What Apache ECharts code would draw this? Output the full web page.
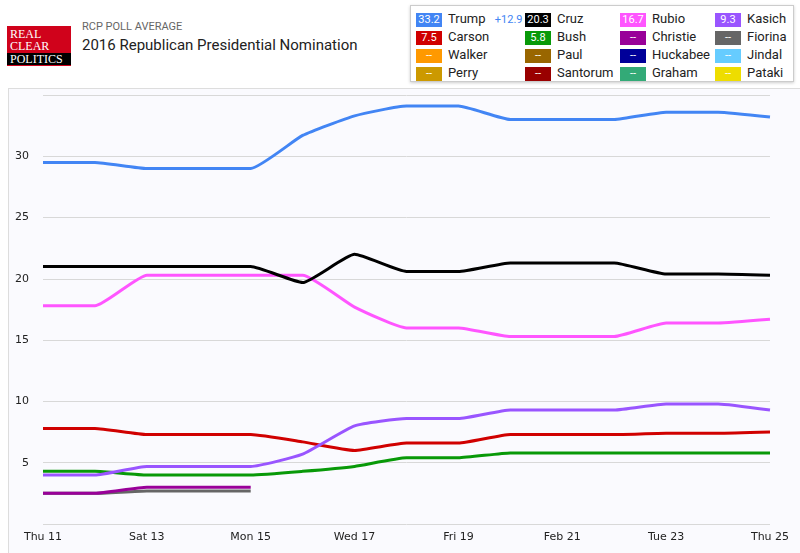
<!DOCTYPE html>
<html>
<head>
<meta charset="utf-8">
<script src="https://cdn.jsdelivr.net/npm/echarts@6/dist/echarts.min.js"></script>
<style>
  body { margin: 0; width: 800px; height: 553px; background: #fff; font-family: Roboto, "Open Sans", sans-serif; position: relative; overflow: hidden; }
  #logo { position: absolute; left: 7px; top: 26px; width: 64px; height: 40px; background: #d0021b; color: #fff; font-family: "Liberation Serif", serif; font-size: 12px; line-height: 12px; padding: 2px 0 0 3px; box-sizing: border-box; }
  #logo span { display: block; }
  #logo .b { background: #000; margin: 1px 0 0 -3px; padding-left: 3px; }
  #sub { position: absolute; left: 82px; top: 20px; font-size: 11px; color: #666; }
  #title { position: absolute; left: 82px; top: 36px; font-size: 15px; color: #222; }
  #legend { position: absolute; left: 410px; top: 5px; width: 384px; height: 77px; border: 1px solid #ccc; box-shadow: 0 1px 3px #ccc; box-sizing: border-box; }
  .item { position: absolute; font-size: 13px; color: #222; height: 18px; line-height: 16px; white-space: nowrap; }
  .badge { display: inline-block; width: 26px; height: 14px; color: #fff; font-size: 11px; text-align: center; line-height: 14px; margin-right: 6px; vertical-align: middle; }
  #frame { position: absolute; left: 8px; top: 88px; width: 800px; height: 470px; border: 1px solid #ddd; box-sizing: border-box; background: #fafafe; }
  #chart { position: absolute; left: 0; top: 88px; width: 800px; height: 465px; }
</style>
</head>
<body>
<div id="logo"><span>REAL</span><span>CLEAR</span><span class="b">POLITICS</span></div>
<div id="sub">RCP POLL AVERAGE</div>
<div id="title">2016 Republican Presidential Nomination</div>
<div id="legend"></div>
<div id="frame"></div>
<div id="chart"></div>
<script>
const days = ['Thu 11', 'Fri 12', 'Sat 13', 'Sun 14', 'Mon 15', 'Tue 16', 'Wed 17', 'Thu 18', 'Fri 19', 'Sat 20', 'Feb 21', 'Mon 22', 'Tue 23', 'Wed 24', 'Thu 25']
const trump = [29.5, 29.5, 29, 29, 29, 31.7, 33.3, 34.1, 34.1, 33, 33, 33, 33.6, 33.6, 33.2]
const cruz = [21, 21, 21, 21, 21, 19.7, 22, 20.6, 20.6, 21.3, 21.3, 21.3, 20.4, 20.4, 20.3]
const rubio = [17.8, 17.8, 20.3, 20.3, 20.3, 20.3, 17.7, 16, 16, 15.3, 15.3, 15.3, 16.4, 16.4, 16.7]
const kasich = [4, 4, 4.7, 4.7, 4.7, 5.7, 8, 8.6, 8.6, 9.3, 9.3, 9.3, 9.8, 9.8, 9.3]
const carson = [7.8, 7.8, 7.3, 7.3, 7.3, 6.7, 6, 6.6, 6.6, 7.3, 7.3, 7.3, 7.4, 7.4, 7.5]
const bush = [4.3, 4.3, 4, 4, 4, 4.3, 4.7, 5.4, 5.4, 5.8, 5.8, 5.8, 5.8, 5.8, 5.8]
const christie = [2.5, 2.5, 3, 3, 3]
const fiorina = [2.5, 2.5, 2.7, 2.7, 2.7]

const candidates = [
  ['Trump', '#4285f4', trump], ['Cruz', '#000000', cruz], ['Rubio', '#ff55ff', rubio], ['Kasich', '#9955ff', kasich],
  ['Carson', '#d00000', carson], ['Bush', '#089908', bush], ['Christie', '#990099', christie], ['Fiorina', '#666666', fiorina],
  ['Walker', '#ff9900', null], ['Paul', '#996600', null], ['Huckabee', '#000099', null], ['Jindal', '#66ccff', null],
  ['Perry', '#cc9900', null], ['Santorum', '#990000', null], ['Graham', '#33aa77', null], ['Pataki', '#eedd00', null]
]

// legend in html, values taken from the last point of each active series
const legend = document.getElementById('legend')
candidates.forEach(([name, color, data], i) => {
  const col = i % 4, row = Math.floor(i / 4)
  const last = data && data.length === days.length ? data[data.length - 1].toFixed(1) : '--'
  const el = document.createElement('div')
  el.className = 'item'
  el.style.left = [5, 114, 209, 304][col] + 'px'
  el.style.top = (5 + row * 18) + 'px'
  el.innerHTML = '<span class="badge" style="background:' + color + '">' + last + '</span>' + name +
    (name === 'Trump' ? ' <span style="color:#4285f4;font-size:11px;margin-left:6px">+12.9</span>' : '')
  legend.appendChild(el)
})

const chart = echarts.init(document.getElementById('chart'))
chart.setOption({
  animation: false,
  grid: { left: 43, right: 30, top: 7, bottom: 29 },
  xAxis: {
    type: 'category', data: days, boundaryGap: false,
    axisLine: { show: false }, axisTick: { show: false },
    axisLabel: { interval: 1, color: '#222', fontSize: 11, fontFamily: 'DejaVu Sans', margin: 8 }
  },
  yAxis: {
    type: 'value', min: 0, max: 35, interval: 5,
    axisLabel: { showMinLabel: false, showMaxLabel: false, color: '#222', fontSize: 11, fontFamily: 'DejaVu Sans', margin: 14 },
    splitLine: { lineStyle: { color: '#d8d8d8' } }
  },
  series: candidates.filter(c => c[2]).reverse().map(([name, color, data]) => ({
    name, type: 'line', data, smooth: 0.15, showSymbol: false,
    lineStyle: { color, width: 3 }, itemStyle: { color }
  }))
})
</script>
</body>
</html>
